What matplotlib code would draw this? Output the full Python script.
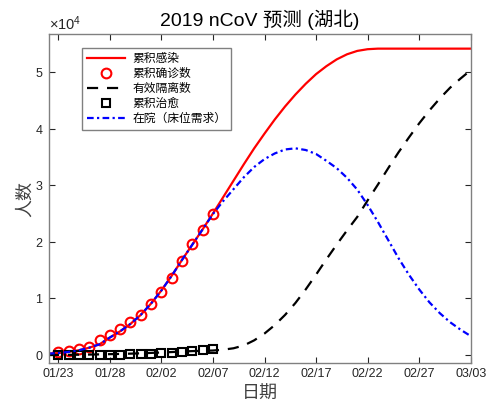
import matplotlib
matplotlib.use("Agg")
import matplotlib.pyplot as plt
from matplotlib.ticker import ScalarFormatter

plt.rcParams['font.family'] = ['Liberation Sans', 'Noto Sans CJK SC']
plt.rcParams['mathtext.fontset'] = 'custom'
plt.rcParams['mathtext.rm'] = 'Liberation Sans'

# days since 01/23 (model runs from day -1 to 40)
model_days = list(range(-1, 41))

infected = [250, 350, 550, 850, 1300, 1900, 3100, 4200, 5500, 7100, 9100,
            11400, 14000, 16800, 19500, 22200, 25000, 27900, 30800, 33700,
            36500, 39100, 41600, 43900, 46000, 47900, 49600, 51000, 52200,
            53100, 53700, 54000, 54100, 54100, 54100, 54100, 54100, 54100,
            54100, 54100, 54100, 54100]

isolated = [0, 20, 40, 60, 90, 120, 160, 200, 250, 310, 380, 450, 530, 620,
            700, 750, 800, 950, 1200, 1700, 2600, 3800, 5300, 7100, 9200,
            11600, 14200, 16900, 19500, 22000, 24400, 27300, 30100, 33000,
            35800, 38400, 40900, 43200, 45300, 47200, 48800, 50300]

hospital = [250, 350, 550, 850, 1300, 1900, 3100, 4200, 5500, 7100, 9100,
            11400, 14000, 16800, 19500, 22200, 24900, 27200, 29300, 31400,
            33200, 34600, 35600, 36300, 36500, 36200, 35500, 34300, 33000,
            31300, 29200, 26500, 23500, 20300, 17100, 14200, 11600, 9300,
            7400, 5800, 4500, 3350]

obs_days = list(range(0, 16))
confirmed = [549, 729, 1052, 1423, 2714, 3554, 4586, 5806, 7153, 9074,
             11177, 13522, 16678, 19665, 22112, 24953]
cured = [31, 32, 42, 44, 47, 80, 90, 116, 166, 215, 295, 396, 520, 633,
         817, 1115]

tick_days = [0, 5, 10, 15, 20, 25, 30, 35, 40]
tick_labels = ['01/23', '01/28', '02/02', '02/07', '02/12', '02/17',
               '02/22', '02/27', '03/03']

labels = ['累积感染', '累积确诊数', '有效隔离数', '累积治愈', '在院（床位需求）']

fig = plt.figure(figsize=(4.89, 4.12), dpi=100)
ax = fig.add_axes([0.0996, 0.118, 0.8630, 0.799])

ax.plot(model_days, infected, color='red', lw=1.6, label=labels[0])
ax.plot(obs_days, confirmed, 'o', mfc='none', mec='red', ms=7, mew=1.5,
        label=labels[1])
ax.plot(model_days, isolated, '--', color='black', lw=1.6,
        dashes=(5, 4), label=labels[2])
ax.plot(obs_days, cured, 's', mfc='none', mec='black', ms=6, mew=1.5,
        label=labels[3])
ax.plot(model_days, hospital, '-.', color='blue', lw=1.6,
        dashes=(3, 1.5, 1, 1.5), label=labels[4])

ax.set_xlim(-0.93, 40)
ax.set_ylim(-1470, 56650)
ax.set_xticks(tick_days)
ax.set_xticklabels(tick_labels)
ax.set_yticks([0, 10000, 20000, 30000, 40000, 50000])

fmt = ScalarFormatter(useMathText=True)
fmt.set_powerlimits((0, 0))
ax.yaxis.set_major_formatter(fmt)
ax.yaxis.get_offset_text().set_fontsize(10.5)
ax.yaxis.get_offset_text().set_color('#262626')

ax.tick_params(direction='in', top=True, right=True, labelsize=9,
               colors='#262626', length=4, width=0.8)
for sp in ax.spines.values():
    sp.set_color('#808080')
    sp.set_linewidth(1.0)

ax.set_title('2019 nCoV 预测 (湖北)', fontsize=14, color='black', pad=6)
ax.set_xlabel('日期', fontsize=13, color='#404040', labelpad=4)
ax.set_ylabel('人数', fontsize=13, color='#404040', labelpad=1)

leg = ax.legend(loc='upper left', bbox_to_anchor=(0.08, 0.957),
                borderaxespad=0, fancybox=False, fontsize=8.5,
                handlelength=3.2, handletextpad=0.6, labelspacing=0.25,
                borderpad=0.4, framealpha=1)
leg.get_frame().set_edgecolor('#808080')
leg.get_frame().set_linewidth(1.0)

fig.savefig('out.png', dpi=100)
